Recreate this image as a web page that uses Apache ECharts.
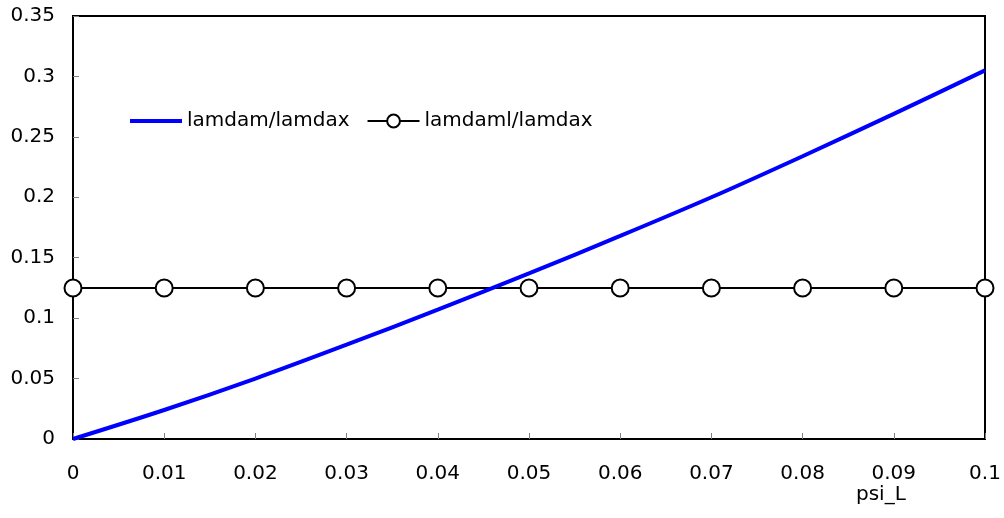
<!DOCTYPE html>
<html>
<head>
<meta charset="utf-8">
<script src="https://cdn.jsdelivr.net/npm/echarts@6/dist/echarts.min.js"></script>
<style>
html,body{margin:0;padding:0;background:#fff;}
#chart{width:1004px;height:518px;}
</style>
</head>
<body>
<div id="chart"></div>
<script>
const psiL = [0, 0.01, 0.02, 0.03, 0.04, 0.05, 0.06, 0.07, 0.08, 0.09, 0.1];
const lamdamRatio = [0, 0.024, 0.050, 0.078, 0.107, 0.137, 0.168, 0.200, 0.234, 0.269, 0.305];
const lamdamlRatio = [0.125, 0.125, 0.125, 0.125, 0.125, 0.125, 0.125, 0.125, 0.125, 0.125, 0.125];
const seriesNames = ['lamdam/lamdax', 'lamdaml/lamdax'];
const xTickLabels = ['0', '0.01', '0.02', '0.03', '0.04', '0.05', '0.06', '0.07', '0.08', '0.09', '0.1'];
const yTickLabels = ['0', '0.05', '0.1', '0.15', '0.2', '0.25', '0.3', '0.35'];
const xAxisName = 'psi_L';

const font = 'DejaVu Sans, Liberation Sans, Arial, sans-serif';
const chart = echarts.init(document.getElementById('chart'));
chart.setOption({
  animation: false,
  backgroundColor: '#fff',
  grid: {left: 73, right: 19, top: 16, bottom: 79, show: true, borderColor: '#000', borderWidth: 2, backgroundColor: 'transparent'},
  legend: {
    left: 128, top: 111, padding: 0,
    itemWidth: 52, itemHeight: 16, itemGap: 17,
    textStyle: {fontFamily: font, fontSize: 20, color: '#000'},
    data: [
      {name: seriesNames[0], itemStyle: {opacity: 0}, lineStyle: {width: 4, color: '#0000ff'}},
      {name: seriesNames[1], lineStyle: {width: 2, color: '#000'}}
    ]
  },
  xAxis: {
    type: 'value', min: 0, max: 0.1, interval: 0.01,
    axisLine: {show: false},
    axisTick: {show: true, inside: true, length: 6, lineStyle: {color: '#808080', width: 1}},
    splitLine: {show: false},
    axisLabel: {margin: 25, fontFamily: font, fontSize: 20, color: '#000',
      formatter: (v) => { const i = Math.round(v / 0.01); return xTickLabels[i] !== undefined ? xTickLabels[i] : ''; }}
  },
  yAxis: {
    type: 'value', min: 0, max: 0.35, interval: 0.05,
    axisLine: {show: false},
    axisTick: {show: true, inside: true, length: 6, lineStyle: {color: '#808080', width: 1}},
    splitLine: {show: false},
    axisLabel: {margin: 18, fontFamily: font, fontSize: 20, color: '#000',
      formatter: (v) => { const i = Math.round(v / 0.05); return yTickLabels[i] !== undefined ? yTickLabels[i] : ''; }}
  },
  graphic: [{
    type: 'text', left: 856, top: 485,
    style: {text: xAxisName, fontFamily: font, fontSize: 20, fill: '#000'}
  }],
  series: [
    {
      name: seriesNames[0], type: 'line', smooth: 0.3,
      data: psiL.map((x, i) => [x, lamdamRatio[i]]),
      symbol: 'none',
      lineStyle: {color: '#0000ff', width: 4},
      itemStyle: {color: '#0000ff'},
      z: 3
    },
    {
      name: seriesNames[1], type: 'line',
      data: psiL.map((x, i) => [x, lamdamlRatio[i]]),
      symbol: 'circle', symbolSize: 17, showAllSymbol: true,
      lineStyle: {color: '#000', width: 2},
      itemStyle: {color: '#fff', borderColor: '#000', borderWidth: 2},
      z: 2
    }
  ]
});
</script>
</body>
</html>
